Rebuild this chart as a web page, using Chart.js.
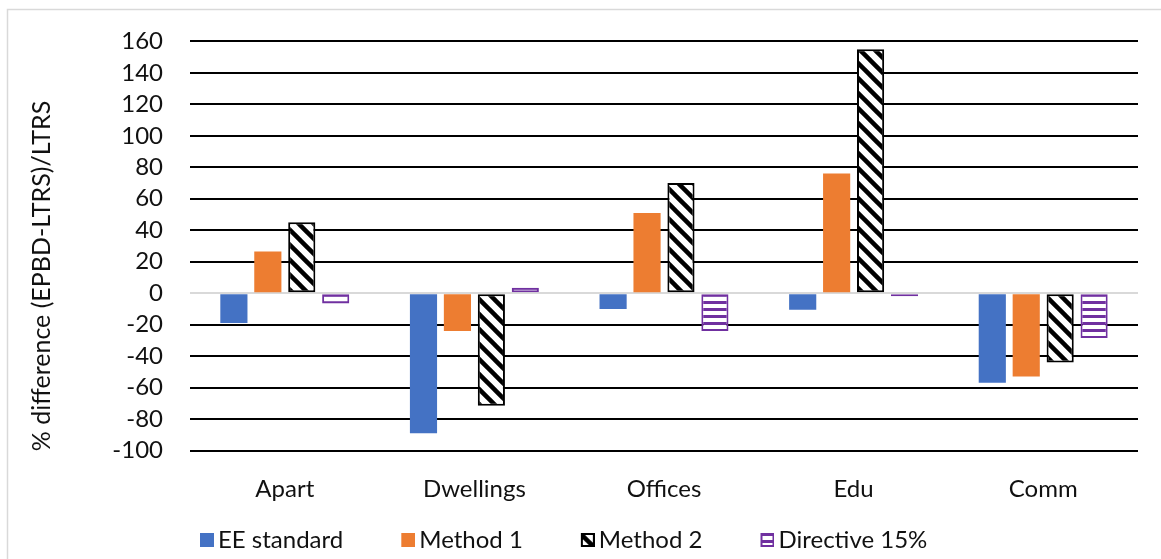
<!DOCTYPE html>
<html>
<head>
<meta charset="utf-8">
<script src="https://cdn.jsdelivr.net/npm/chart.js@4.4.1/dist/chart.umd.min.js"></script>
<style>
  html, body { margin: 0; padding: 0; background: #fff; }
  #wrap { position: relative; width: 1161px; height: 559px; }
</style>
</head>
<body>
<div id="wrap"><canvas id="c" width="1161" height="559"></canvas></div>
<script>
// Building categories and the % difference of each method
const categories = ['Apart', 'Dwellings', 'Offices', 'Edu', 'Comm'];
const eeStandard  = [-19, -89, -10, -10.5, -57];
const method1     = [26.5, -24, 51, 76, -53];
const method2     = [45, -71.5, 70, 155, -44];
const directive15 = [-6.5, 3.5, -24, -2, -28.5];
const yTickValues = [-100, -80, -60, -40, -20, 0, 20, 40, 60, 80, 100, 120, 140, 160];
const yAxisTitle  = '% difference (EPBD-LTRS)/LTRS';

const FONT = 'Lato, "Noto Sans", sans-serif';
const FS = 24;
const TEXT = '#111';
const BLUE = '#4472c4';
const ORANGE = '#ed7d31';
const PURPLE = '#7030a0';

const canvas = document.getElementById('c');
const ctx = canvas.getContext('2d');

// Wide downward diagonal hatch (black on white)
function diagonalHatch(g0) {
  const s = 15;
  const t = document.createElement('canvas');
  t.width = s; t.height = s;
  const g = t.getContext('2d');
  g.fillStyle = '#fff';
  g.fillRect(0, 0, s, s);
  g.strokeStyle = '#000';
  g.lineWidth = 4.5;
  for (let k = -1; k <= 1; k++) {
    g.beginPath();
    g.moveTo(k * s - 2, -2);
    g.lineTo(k * s + s + 2, s + 2);
    g.stroke();
  }
  return g0.createPattern(t, 'repeat');
}

// Narrow horizontal stripes (purple on white)
function horizontalHatch(g0) {
  const t = document.createElement('canvas');
  t.width = 8; t.height = 7;
  const g = t.getContext('2d');
  g.fillStyle = '#fff';
  g.fillRect(0, 0, 8, 7);
  g.fillStyle = PURPLE;
  g.fillRect(0, 0, 8, 3);
  return g0.createPattern(t, 'repeat');
}

// Legend key: a 14px swatch sitting on the right half of a wider transparent image,
// so the swatch ends close to its label
function legendKey(fill, stroke) {
  const k = document.createElement('canvas');
  k.width = 30; k.height = 14;
  const g = k.getContext('2d');
  const f = typeof fill === 'function' ? fill(g) : fill;
  g.fillStyle = f;
  g.fillRect(16, 0, 14, 14);
  if (stroke) {
    g.strokeStyle = stroke;
    g.lineWidth = 2;
    g.strokeRect(17, 1, 12, 12);
  }
  return k;
}
const legendKeys = [
  legendKey(BLUE),
  legendKey(ORANGE),
  legendKey(diagonalHatch, '#000'),
  legendKey(horizontalHatch, PURPLE)
];

// Frame, rotated axis title and legend placement
const decorations = {
  id: 'decorations',
  beforeDraw(chart) {
    const c = chart.ctx;
    c.save();
    c.strokeStyle = '#d9d9d9';
    c.lineWidth = 1.5;
    c.strokeRect(7.5, 9.5, 1200, 600);
    c.restore();
  },
  afterLayout(chart) {
    const lg = chart.legend;
    const pad = lg.options.labels.padding;
    lg.left = 192 - pad;
    lg.top = 540 - pad - lg.options.labels.font.size / 2;
  },
  afterDraw(chart) {
    const c = chart.ctx;
    c.save();
    c.translate(42, 276);
    c.rotate(-Math.PI / 2);
    c.font = (FS + 1) + 'px ' + FONT;
    c.fillStyle = TEXT;
    c.textAlign = 'center';
    c.textBaseline = 'middle';
    c.fillText(yAxisTitle, 0, 0);
    c.restore();
  }
};

const barShape = { categoryPercentage: 0.716, barPercentage: 0.8, borderSkipped: false };

new Chart(ctx, {
  type: 'bar',
  data: {
    labels: categories,
    datasets: [
      Object.assign({ label: 'EE standard', data: eeStandard, backgroundColor: BLUE, borderWidth: 0 }, barShape),
      Object.assign({ label: 'Method 1', data: method1, backgroundColor: ORANGE, borderWidth: 0 }, barShape),
      Object.assign({ label: 'Method 2', data: method2, backgroundColor: diagonalHatch(ctx), borderColor: '#000', borderWidth: 2 }, barShape),
      Object.assign({ label: 'Directive 15%', data: directive15, backgroundColor: horizontalHatch(ctx), borderColor: PURPLE, borderWidth: 2 }, barShape)
    ]
  },
  options: {
    responsive: false,
    animation: false,
    layout: { padding: { left: 0, right: 23, top: 39.5, bottom: 0 } },
    plugins: {
      tooltip: { enabled: false },
      legend: {
        position: 'bottom',
        align: 'start',
        maxHeight: 40,
        labels: {
          font: { family: FONT, size: FS },
          color: TEXT,
          usePointStyle: true,
          pointStyleWidth: 14,
          boxHeight: 14,
          padding: 50,
          generateLabels(chart) {
            const items = Chart.defaults.plugins.legend.labels.generateLabels(chart);
            items.forEach((it, i) => { it.pointStyle = legendKeys[i]; });
            return items;
          }
        }
      }
    },
    scales: {
      x: {
        grid: { display: false, drawTicks: false },
        border: { display: false },
        ticks: { font: { family: FONT, size: FS }, color: TEXT, padding: 24, autoSkip: false, maxRotation: 0 },
        afterFit(scale) { scale.height = 559 - 450.5 - 40; }
      },
      y: {
        min: -100,
        max: 160,
        afterBuildTicks(scale) { scale.ticks = yTickValues.map(v => ({ value: v })); },
        grid: {
          drawTicks: false,
          lineWidth: 2,
          color: (c) => (c.tick && c.tick.value === 0 ? '#d9d9d9' : '#000')
        },
        border: { display: false },
        ticks: { font: { family: FONT, size: FS }, color: TEXT, padding: 27, autoSkip: false },
        afterFit(scale) { scale.width = 190; }
      }
    }
  },
  plugins: [decorations]
});
</script>
</body>
</html>
